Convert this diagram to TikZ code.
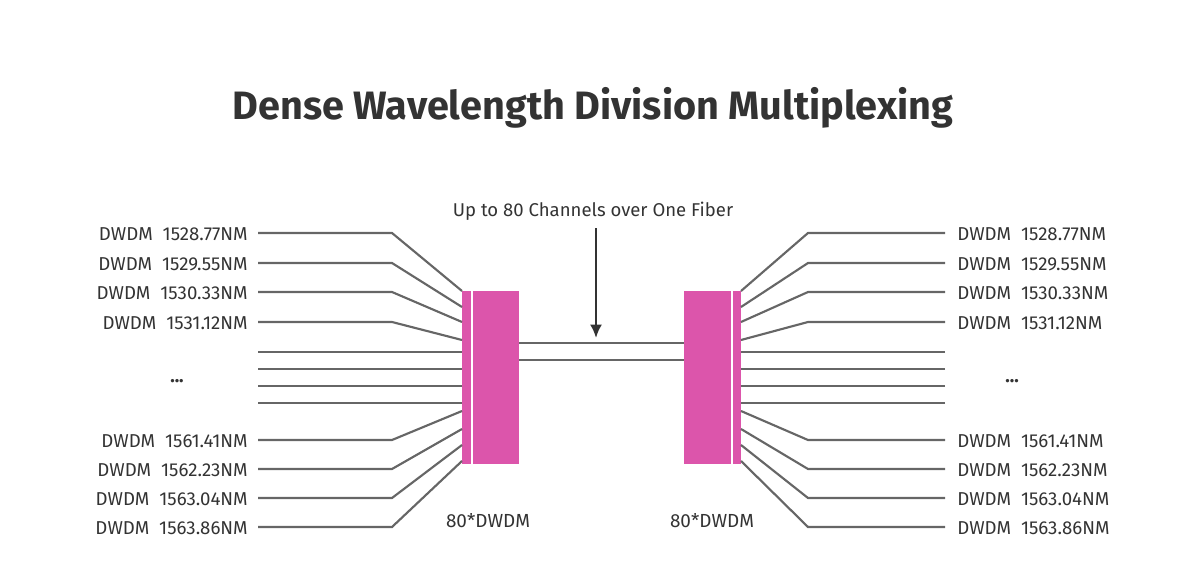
\documentclass[tikz,border=0pt]{standalone}
\usepackage{fontspec}
\setmainfont{Fira Sans}
\usetikzlibrary{arrows.meta}
\begin{document}
\begin{tikzpicture}[x=0.75pt,y=-0.75pt,
  fib/.style={draw=black!60,line width=1.6pt},
  lbl/.style={font=\fontsize{14}{16}\selectfont,text=black!80,inner sep=0pt}]
\definecolor{pk}{HTML}{DC55AB}
\useasboundingbox (0,0) rectangle (1200,585);
\node[font=\bfseries\fontsize{29.7}{34}\selectfont,text=black!80] (title) at (593,108) {Dense Wavelength Division Multiplexing};
% boxes
\fill[pk] (462,291) rectangle (471,464);
\fill[pk] (473,291) rectangle (519,464);
\fill[pk] (684,291) rectangle (731,464);
\fill[pk] (733,291) rectangle (741,464);
\coordinate (L1) at (519,343); \coordinate (R1) at (684,343);
\coordinate (L2) at (519,360); \coordinate (R2) at (684,360);
\draw[fib] (L1) -- (R1); \draw[fib] (L2) -- (R2);
\node[lbl,font=\fontsize{13.9}{16}\selectfont] (up) at (593,211) {Up to 80 Channels over One Fiber};
\coordinate (a0) at (596,228); \coordinate (a1) at (596,338);
\draw[line width=1.8pt,black!80,-{Latex[length=10pt,width=9pt]}] (a0) -- (a1);
% diagonal channel lines
\foreach \ly/\ey/\t in {233/291/1528.77,263/307/1529.55,292/322/1530.33,322/340/1531.12,440/411/1561.41,469/429/1562.23,498/445/1563.04,527/461/1563.86}{
  \coordinate (la) at (258,\ly); \coordinate (lb) at (392,\ly); \coordinate (lc) at (462,\ey);
  \draw[fib] (la) -- (lb) -- (lc);
  \coordinate (ra) at (945,\ly); \coordinate (rb) at (808,\ly); \coordinate (rc) at (741,\ey);
  \draw[fib] (ra) -- (rb) -- (rc);
  \node[lbl,anchor=east] at (248,\ly+1) {DWDM\ \ \t NM};
  \node[lbl,anchor=west] at (957,\ly+1) {DWDM\ \ \t NM};
}
\foreach \y in {352,369,386,403}{
  \coordinate (sa) at (258,\y); \coordinate (sb) at (462,\y);
  \draw[fib] (sa) -- (sb);
  \coordinate (ta) at (945,\y); \coordinate (tb) at (741,\y);
  \draw[fib] (ta) -- (tb);
}
\node[lbl,font=\bfseries\fontsize{14}{16}\selectfont] (dl) at (177,381) {...};
\node[lbl,font=\bfseries\fontsize{14}{16}\selectfont] (dr) at (1012,381) {...};
\node[lbl,font=\fontsize{14.2}{16}\selectfont] (bl) at (488,521) {80*DWDM};
\node[lbl,font=\fontsize{14.2}{16}\selectfont] (br) at (712,521) {80*DWDM};
\end{tikzpicture}
\end{document}
